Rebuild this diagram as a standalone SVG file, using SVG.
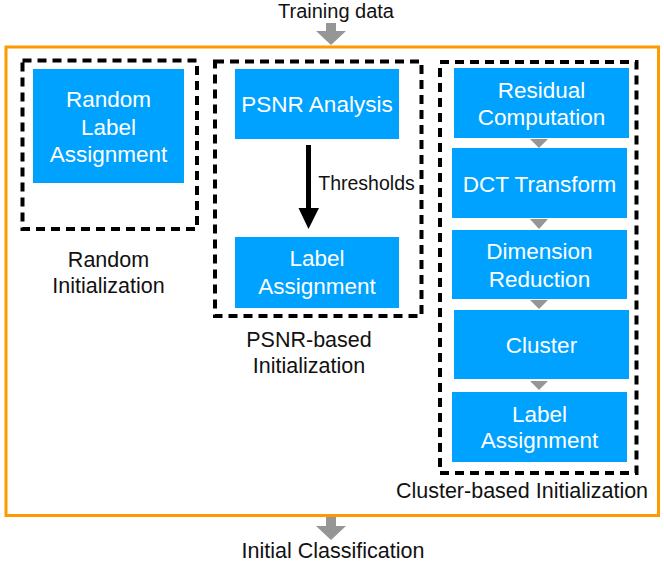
<svg xmlns="http://www.w3.org/2000/svg" width="664" height="563" viewBox="0 0 664 563">
<style>
.node{fill:#00A2FF}
.nt{font-family:"Liberation Sans",Arial,Helvetica,sans-serif;font-size:22.5px;fill:#fff;text-anchor:middle}
.lbl{font-family:"Liberation Sans",Arial,Helvetica,sans-serif;font-size:21.5px;fill:#111;text-anchor:middle}
.dash{fill:none;stroke:#000;stroke-width:4;stroke-dasharray:9 6}
.gray{fill:#969696}
</style>
<rect width="664" height="563" fill="#fff"/>
<g id="frame">
<rect x="6" y="47" width="652.5" height="468.5" fill="none" stroke="#FF9900" stroke-width="3"/>
</g>
<g id="groups">
<rect class="dash" x="22.5" y="60.5" width="174.5" height="168.5"/>
<rect class="dash" x="215" y="61.5" width="206.5" height="254.5"/>
<rect class="dash" x="440" y="62" width="196.5" height="411"/>
</g>
<g id="connectors">
<path class="gray" d="M326 23H336V31H346L331 45L316 31H326Z"/>
<path class="gray" d="M326 517H336V526H346L331 540L316 526H326Z"/>
<rect x="306" y="145" width="5" height="64" fill="#000"/>
<path d="M298.5 208H319L308.5 229Z" fill="#000"/>
<path class="gray" d="M530 139H548L539 148Z"/>
<path class="gray" d="M530 219H548L539 229Z"/>
<path class="gray" d="M530 300H548L539 309Z"/>
<path class="gray" d="M530 381H548L539 390Z"/>
</g>
<g id="n-random">
<rect class="node" x="33" y="69" width="151" height="114"/>
<text class="nt" x="108.5" y="107">Random</text>
<text class="nt" x="108.5" y="135">Label</text>
<text class="nt" x="108.5" y="162">Assignment</text>
</g>
<g id="n-psnr">
<rect class="node" x="235" y="69" width="164" height="70"/>
<text class="nt" x="317" y="112">PSNR Analysis</text>
</g>
<g id="n-psnr-label">
<rect class="node" x="235" y="237" width="164" height="71"/>
<text class="nt" x="317" y="266">Label</text>
<text class="nt" x="317" y="294">Assignment</text>
</g>
<g id="n-residual">
<rect class="node" x="454" y="68" width="175" height="70"/>
<text class="nt" x="541.5" y="98">Residual</text>
<text class="nt" x="541.5" y="125">Computation</text>
</g>
<g id="n-dct">
<rect class="node" x="452" y="148" width="175" height="70"/>
<text class="nt" x="539.5" y="192">DCT Transform</text>
</g>
<g id="n-dim">
<rect class="node" x="452" y="230" width="175" height="69"/>
<text class="nt" x="539.5" y="259">Dimension</text>
<text class="nt" x="539.5" y="287">Reduction</text>
</g>
<g id="n-cluster">
<rect class="node" x="454" y="310" width="175" height="69"/>
<text class="nt" x="541.5" y="353">Cluster</text>
</g>
<g id="n-cl-label">
<rect class="node" x="452" y="392" width="175" height="70"/>
<text class="nt" x="539.5" y="422">Label</text>
<text class="nt" x="539.5" y="448">Assignment</text>
</g>
<g id="labels">
<text class="lbl" x="336" y="18" style="font-size:20px">Training data</text>
<text class="lbl" x="333" y="558">Initial Classification</text>
<text class="lbl" x="108.5" y="267">Random</text>
<text class="lbl" x="108.5" y="293">Initialization</text>
<text class="lbl" x="309" y="347">PSNR-based</text>
<text class="lbl" x="309" y="373">Initialization</text>
<text class="lbl" x="522" y="498">Cluster-based Initialization</text>
<text class="lbl" x="366.5" y="190" style="font-size:19.5px">Thresholds</text>
</g>
</svg>
